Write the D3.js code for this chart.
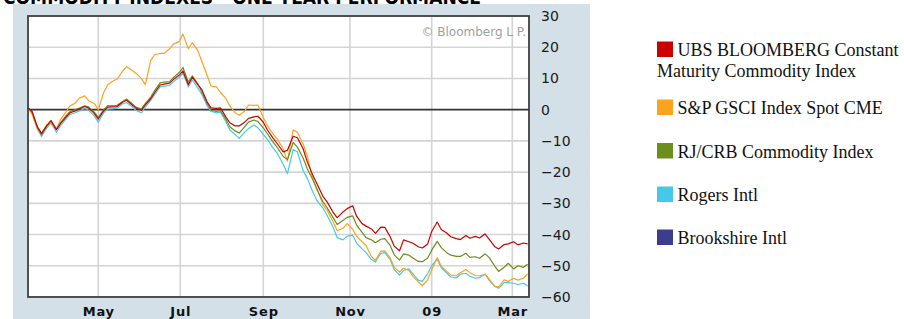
<!DOCTYPE html>
<html>
<head>
<meta charset="utf-8">
<script src="https://cdn.jsdelivr.net/npm/d3@7"></script>
<style>
  body { margin: 0; background: #fff; }
</style>
</head>
<body>
<div id="chart"></div>
<script>
// twice-weekly closes, % change since start
const dates = [
  "2008-03-10","2008-03-13","2008-03-17","2008-03-20","2008-03-24","2008-03-27","2008-03-31","2008-04-03",
  "2008-04-07","2008-04-10","2008-04-14","2008-04-17","2008-04-21","2008-04-24","2008-04-28","2008-05-01",
  "2008-05-05","2008-05-08","2008-05-12","2008-05-15","2008-05-19","2008-05-22","2008-05-26","2008-05-29",
  "2008-06-02","2008-06-05","2008-06-09","2008-06-12","2008-06-16","2008-06-19","2008-06-23","2008-06-26",
  "2008-06-30","2008-07-03",
  "2008-07-07","2008-07-10","2008-07-14","2008-07-17","2008-07-21","2008-07-24","2008-07-28","2008-07-31",
  "2008-08-04","2008-08-07","2008-08-11","2008-08-14","2008-08-18","2008-08-21","2008-08-25","2008-08-28",
  "2008-09-01","2008-09-04","2008-09-08","2008-09-11","2008-09-15","2008-09-18","2008-09-22","2008-09-25",
  "2008-09-29","2008-10-02","2008-10-06","2008-10-09","2008-10-13","2008-10-16","2008-10-20","2008-10-23",
  "2008-10-27","2008-10-30",
  "2008-11-03","2008-11-06","2008-11-10","2008-11-13","2008-11-17","2008-11-20","2008-11-24","2008-11-27",
  "2008-12-01","2008-12-04","2008-12-08","2008-12-11","2008-12-15","2008-12-18","2008-12-22","2008-12-25",
  "2008-12-29",
  "2009-01-01","2009-01-05","2009-01-08","2009-01-12","2009-01-15","2009-01-19","2009-01-22","2009-01-26",
  "2009-01-29","2009-02-02","2009-02-05","2009-02-09","2009-02-12","2009-02-16","2009-02-19","2009-02-23",
  "2009-02-26",
  "2009-03-02","2009-03-05","2009-03-09","2009-03-12"
];

const ubs = [
  0.6, -0.5, -5.5, -7.6, -5.0, -3.5, -6.4, -4.5, -2.5, -1.0, -0.4, 0.2, 1.0, 0.5, -1.2, -3.0,
  -0.4, 0.8, 0.9, 1.0, 2.4, 3.0, 1.6, 0.5, -0.2, 1.5, 3.5, 5.5, 7.9, 8.2, 8.5, 9.7, 11.0, 12.4,
  8.0, 10.4, 8.0, 6.5, 2.5, 0.6, 0.4, 0.6, -2.3, -4.2, -5.2, -5.2, -4.0, -2.8, -2.3, -2.1,
  -4.0, -6.6, -9.2, -11.0, -13.5, -13.0, -8.5, -9.0, -12.5, -16.8, -21.2, -24.0, -27.8, -29.6, -32.8, -34.6, -32.8, -31.7,
  -30.8, -34.2, -36.5, -37.3, -38.2, -39.6, -37.6, -37.7, -40.7, -43.7, -45.2, -41.7, -42.3, -42.8, -43.9, -44.3, -43.0,
  -39.0, -36.0, -38.4, -39.5, -40.7, -41.3, -41.6, -40.3, -41.2, -40.6, -41.1, -39.8, -41.5, -43.8, -44.6, -43.2, -43.0,
  -42.3, -43.3, -42.7, -43.0
];

const gsci = [
  0.6, -1.5, -6.2, -7.8, -4.8, -4.5, -6.3, -3.2, -0.8, 1.2, 2.1, 3.7, 4.4, 2.8, 2.0, 0.0,
  5.5, 8.0, 9.2, 9.8, 12.3, 13.8, 12.6, 11.7, 10.0, 8.0, 15.8, 17.6, 18.0, 18.0, 19.5, 21.0, 21.8, 24.2,
  19.5, 21.5, 19.0, 15.6, 11.0, 7.5, 7.3, 5.5, 3.6, 1.2, -1.0, -1.8, -0.5, 1.5, 1.4, 1.5,
  -2.5, -5.3, -7.8, -9.5, -12.5, -16.5, -6.5, -7.2, -11.0, -15.0, -22.5, -25.5, -30.5, -32.3, -35.8, -38.8, -38.0, -36.5,
  -38.3, -40.6, -42.3, -43.5, -47.0, -48.3, -45.3, -45.2, -47.5, -50.5, -52.0, -50.8, -51.5, -53.4, -55.1, -56.4, -54.5,
  -51.3, -47.4, -50.1, -51.8, -53.0, -53.2, -52.2, -51.2, -52.2, -53.2, -53.2, -52.8, -54.2, -56.5, -56.8, -54.5, -55.0,
  -54.0, -54.6, -54.0, -52.5
];

const crb = [
  0.6, -0.8, -5.8, -8.0, -5.3, -3.6, -6.2, -4.2, -2.0, -0.6, 0.0, 0.5, 1.2, 0.8, -0.8, -2.5,
  0.0, 1.3, 1.2, 1.4, 2.6, 3.4, 2.0, 0.8, 0.2, 2.0, 4.0, 6.2, 8.6, 8.8, 9.0, 10.3, 11.8, 13.5,
  8.8, 10.8, 8.3, 5.8, 2.0, -0.2, -0.6, -0.3, -3.0, -5.5, -6.8, -7.5, -5.5, -4.0, -3.3, -3.8,
  -5.8, -7.8, -10.5, -12.2, -15.0, -16.0, -10.5, -12.0, -15.5, -19.0, -22.5, -25.8, -29.5, -31.5, -34.5, -36.8, -35.5, -34.5,
  -34.0, -37.0, -39.3, -41.0, -41.7, -42.6, -41.5, -41.3, -43.5, -46.5, -48.2, -46.2, -46.6, -47.5, -48.6, -48.7, -47.5,
  -45.0, -42.2, -44.2, -45.8, -46.6, -47.0, -47.0, -46.0, -47.3, -47.1, -47.6, -46.2, -47.3, -50.0, -51.8, -50.5, -49.2,
  -51.0, -50.0, -50.5, -49.5
];

const rogers = [
  0.3, -1.0, -6.2, -8.6, -5.8, -4.2, -7.2, -5.2, -3.0, -1.5, -1.0, -0.4, 0.4, -0.2, -2.0, -4.0,
  -1.0, 0.2, 0.3, 0.5, 1.8, 2.3, 1.0, -0.2, -1.0, 0.8, 3.0, 4.9, 7.3, 7.5, 7.8, 9.0, 10.3, 11.7,
  7.3, 9.5, 7.0, 5.0, 1.3, -0.6, -1.0, -0.8, -3.8, -6.5, -8.0, -9.2, -7.2, -6.0, -4.9, -5.8,
  -7.9, -9.6, -12.3, -14.1, -17.5, -20.5, -12.8, -13.5, -19.5, -22.0, -26.5, -29.3, -31.5, -34.0, -37.5, -41.0, -41.7, -40.5,
  -40.2, -42.8, -44.6, -45.8, -48.0, -48.8, -46.0, -45.8, -48.0, -51.2, -53.0, -51.5, -51.0, -52.6, -54.6, -55.0, -52.5,
  -50.0, -47.8, -50.6, -52.3, -53.6, -53.9, -52.7, -52.4, -53.4, -54.0, -53.8, -52.6, -54.6, -56.6, -57.2, -55.4, -55.4,
  -55.6, -56.0, -55.6, -56.5
];

const legendNames = [
  ["UBS BLOOMBERG Constant", "Maturity Commodity Index"],
  ["S&P GSCI Index Spot CME"],
  ["RJ/CRB Commodity Index"],
  ["Rogers Intl"],
  ["Brookshire Intl"]
];
const legendColors = ["#cc0000", "#fba31d", "#6b8e1c", "#45c9e8", "#3d3d8f"];

const monthTicks = ["2008-05-01", "2008-07-01", "2008-09-01", "2008-11-01", "2009-01-01", "2009-03-01"];
const monthLabels = ["May", "Jul", "Sep", "Nov", "09", "Mar"];
const yTicks = [30, 20, 10, 0, -10, -20, -30, -40, -50, -60];

const width = 904;
const height = 319;
const plotL = 28, plotR = 529, plotT = 16, plotB = 297;

const parse = d3.timeParse("%Y-%m-%d");

const svg = d3.select("#chart")
  .append("svg")
    .attr("width", width)
    .attr("height", height);

// heading of the original page, only its lower edge shows above the panel
svg.append("text")
    .attr("x", 3)
    .attr("y", 4)
    .attr("textLength", 478)
    .attr("lengthAdjust", "spacingAndGlyphs")
    .style("font", "bold 20px 'DejaVu Sans', sans-serif")
    .attr("fill", "#000")
    .text("COMMODITY INDEXES - ONE YEAR PERFORMANCE");

svg.append("rect")
    .attr("x", 13).attr("y", 4)
    .attr("width", 577).attr("height", height - 4)
    .attr("fill", "#d3e0e7");

// x is calibrated to the month grid of the original (Bloomberg spaces by trading day)
const x = d3.scaleTime()
  .domain(["2008-03-10", ...monthTicks, "2009-03-13"].map(parse))
  .range([plotL, 98.3, 180.3, 263.3, 350, 431.7, 512.3, plotR]);

const y = d3.scaleLinear()
  .domain([-60, 30])
  .range([plotB, plotT]);

svg.append("rect")
    .attr("x", plotL).attr("y", plotT)
    .attr("width", plotR - plotL).attr("height", plotB - plotT)
    .attr("fill", "#fff");

// grid
svg.append("g")
  .selectAll("line")
  .data(monthTicks.map(parse))
  .join("line")
    .attr("x1", d => x(d)).attr("x2", d => x(d))
    .attr("y1", plotT).attr("y2", plotB)
    .attr("stroke", "#d4d4d4")
    .attr("stroke-width", 1.6);

svg.append("g")
  .selectAll("line")
  .data(yTicks.filter(d => d !== 0))
  .join("line")
    .attr("x1", plotL).attr("x2", plotR)
    .attr("y1", d => y(d)).attr("y2", d => y(d))
    .attr("stroke", "#d4d4d4")
    .attr("stroke-width", 1.6);

svg.append("line")
    .attr("x1", plotL).attr("x2", plotR)
    .attr("y1", y(0)).attr("y2", y(0))
    .attr("stroke", "#333")
    .attr("stroke-width", 1.6);

svg.append("text")
    .attr("x", 526).attr("y", 36)
    .attr("text-anchor", "end")
    .style("font", "12px 'DejaVu Sans', sans-serif")
    .attr("fill", "#a0a0a0")
    .text("\u00a9 Bloomberg L P.");

// lines, red drawn last like the original
const parsedDates = dates.map(parse);
const line = d3.line()
  .x((d, i) => x(parsedDates[i]))
  .y(d => y(d));

const drawn = [
  { values: rogers, color: legendColors[3] },
  { values: gsci, color: legendColors[1] },
  { values: crb, color: legendColors[2] },
  { values: ubs, color: legendColors[0] }
];

svg.append("g")
  .selectAll("path")
  .data(drawn)
  .join("path")
    .attr("d", d => line(d.values))
    .attr("fill", "none")
    .attr("stroke", d => d.color)
    .attr("stroke-width", 1.2)
    .attr("stroke-linejoin", "round");

// frame
svg.append("rect")
    .attr("x", plotL).attr("y", plotT)
    .attr("width", plotR - plotL).attr("height", plotB - plotT)
    .attr("fill", "none")
    .attr("stroke", "#404040")
    .attr("stroke-width", 1.8);

// right axis labels
svg.append("g")
    .attr("transform", `translate(${plotR}, 0)`)
    .call(d3.axisRight(y).tickValues(yTicks).tickSize(0).tickPadding(12).tickFormat(d3.format("d")))
    .call(g => g.select(".domain").remove())
    .call(g => g.selectAll("text")
      .style("font", "14px 'DejaVu Sans', sans-serif")
      .attr("fill", "#1a1a1a"));

// bottom axis labels
svg.append("g")
    .attr("transform", `translate(0, ${plotB})`)
    .call(d3.axisBottom(x).tickValues(monthTicks.map(parse)).tickSize(0).tickPadding(10)
      .tickFormat((d, i) => monthLabels[i]))
    .call(g => g.select(".domain").remove())
    .call(g => g.selectAll("text")
      .style("font", "bold 13px 'DejaVu Sans', sans-serif")
      .style("letter-spacing", "0.8px")
      .attr("fill", "#111"));

// legend
const legendY = [41.5, 99.5, 143, 186.5, 229.5];
const legend = svg.append("g")
  .selectAll("g")
  .data(legendNames)
  .join("g")
    .attr("transform", (d, i) => `translate(657, ${legendY[i]})`);

legend.append("rect")
    .attr("width", 16).attr("height", 15.5)
    .attr("fill", (d, i) => legendColors[i]);

legend.append("text")
    .style("font", "18px 'Liberation Serif', 'Times New Roman', serif")
    .attr("fill", "#111")
  .selectAll("tspan")
  .data(d => d)
  .join("tspan")
    .attr("x", (d, i) => i === 0 ? 20.5 : 0)
    .attr("y", (d, i) => 14.5 + i * 21.3)
    .text(d => d);
</script>
</body>
</html>
